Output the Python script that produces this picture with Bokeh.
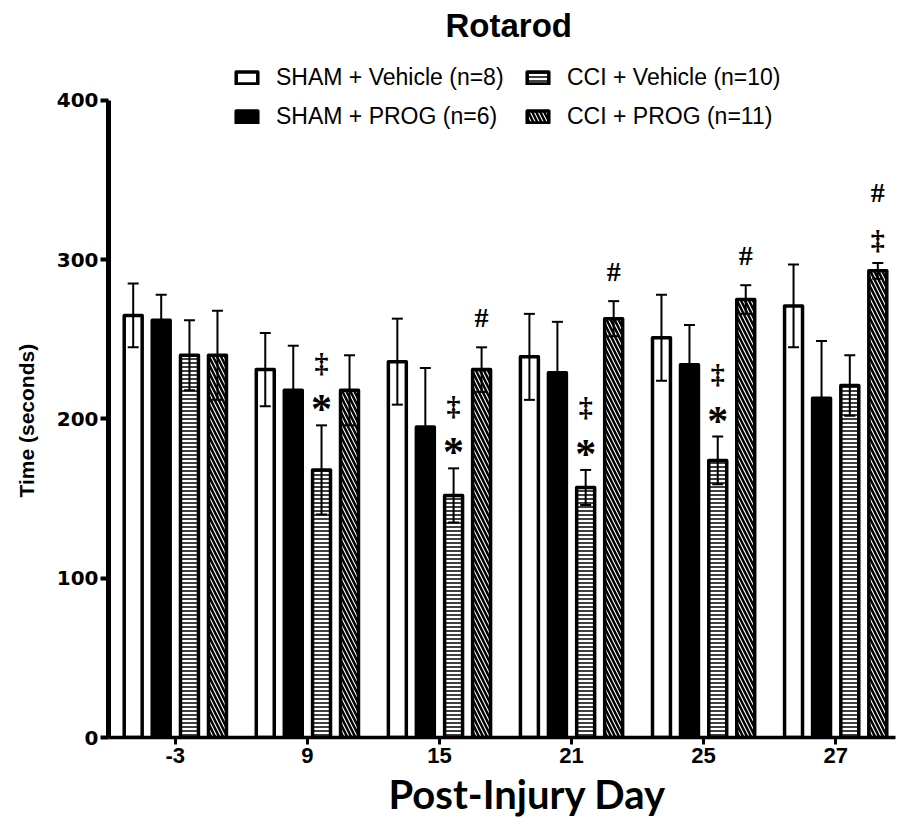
from bokeh.plotting import figure
from bokeh.models import (ColumnDataSource, Whisker, TeeHead, Legend, LegendItem,
                          Title, FixedTicker, Range1d)
from bokeh.core.properties import value
from bokeh.embed import file_html
from bokeh.resources import INLINE

# ---------------- data ----------------
days = ["-3", "9", "15", "21", "25", "27"]
series_names = ["SHAM + Vehicle (n=8)", "SHAM + PROG (n=6)",
                "CCI + Vehicle (n=10)", "CCI + PROG (n=11)"]

sham_veh = [265, 231, 236, 239, 251, 271]
sham_veh_err = [20, 23, 27, 27, 27, 26]
sham_prog = [262, 218, 195, 229, 234, 213]
sham_prog_err = [16, 28, 37, 32, 25, 36]
cci_veh = [240, 168, 152, 157, 174, 221]
cci_veh_err = [22, 28, 17, 11, 15, 19]
cci_prog = [240, 218, 231, 263, 275, 293]
cci_prog_err = [28, 22, 14, 11, 9, 5]

# significance marks: day, series index, symbol, stacking level
annot_day = ["9", "9", "15", "15", "15", "21", "21", "21", "25", "25", "25", "27", "27"]
annot_series = [2, 2, 2, 2, 3, 2, 2, 3, 2, 2, 3, 3, 3]
annot_symbol = ["*", "‡", "*", "‡", "#", "*", "‡", "#", "*", "‡", "#", "‡", "#"]
annot_level = [0, 1, 0, 1, 0, 0, 1, 0, 0, 1, 0, 0, 1]

y_ticks = [0, 100, 200, 300, 400]

# ---------------- styling ----------------
means = [sham_veh, sham_prog, cci_veh, cci_prog]
errs = [sham_veh_err, sham_prog_err, cci_veh_err, cci_prog_err]
offsets = [-0.319, -0.107, 0.107, 0.319]
fills = ["white", "black", "white", "white"]
hatches = [None, None, "horizontal_line", "left_diagonal_line"]
hscale = [6, 6, 4, 8]
hweight = [1, 1, 1.5, 2.5]
bar_w = 0.136

p = figure(width=900, height=824, output_backend="svg", toolbar_location=None,
           x_range=Range1d(-0.506, 5.453), y_range=Range1d(0, 432.0),
           min_border_left=106, min_border_right=5, min_border_top=49,
           min_border_bottom=87)
p.outline_line_color = None
p.xgrid.visible = False
p.ygrid.visible = False
p.background_fill_color = "white"

renderers = []
for k in range(4):
    xs = [i + offsets[k] for i in range(len(days))]
    src = ColumnDataSource(dict(
        x=xs, top=means[k],
        up=[m + e for m, e in zip(means[k], errs[k])],
        lo=[m - e for m, e in zip(means[k], errs[k])]))
    kw = {}
    if hatches[k]:
        kw = dict(hatch_pattern=hatches[k], hatch_color="black",
                  hatch_scale=hscale[k], hatch_weight=hweight[k])
    r = p.vbar(x="x", top="top", bottom=0, width=bar_w, source=src,
               fill_color=fills[k], line_color="black", line_width=3.5,
               line_join="round", **kw)
    renderers.append(r)
    w = Whisker(source=src, base="x", upper="up", lower="lo",
                line_color="black", line_width=2, level="overlay",
                upper_head=TeeHead(size=11, line_width=2, line_color="black"),
                lower_head=TeeHead(size=11, line_width=2, line_color="black"))
    p.add_layout(w)

# significance symbols
ax, ay, aoff, afs = [], [], [], []
sym_adj = {"*": 8, "‡": 1, "#": -6}
sym_size = {"*": "42px", "‡": "28px", "#": "28px"}
for d, s, sym, lvl in zip(annot_day, annot_series, annot_symbol, annot_level):
    i = days.index(d)
    ax.append(i + offsets[s])
    ay.append(means[s][i] + errs[s][i])
    aoff.append(-(24 + 40 * lvl) + sym_adj[sym])
    afs.append(sym_size[sym])
asrc = ColumnDataSource(dict(x=ax, y=ay, sym=annot_symbol, yoff=aoff, fs=afs))
p.text(x="x", y="y", text="sym", source=asrc, y_offset="yoff",
       text_font=value("Liberation Serif"), text_font_size="fs",
       text_font_style="bold", text_align="center", text_baseline="middle",
       text_color="black", level="overlay")

# axes
p.xaxis.ticker = FixedTicker(ticks=list(range(len(days))))
p.xaxis.major_label_overrides = {i: d for i, d in enumerate(days)}
p.xaxis.minor_tick_line_color = None
p.xaxis.axis_line_width = 3.5
p.xaxis.major_tick_line_width = 3
p.xaxis.major_tick_out = 7
p.xaxis.major_tick_in = 0
p.xaxis.major_label_text_font = "Liberation Sans"
p.xaxis.major_label_text_font_style = "bold"
p.xaxis.major_label_text_font_size = "22px"
p.xaxis.major_label_text_color = "black"
p.xaxis.major_label_standoff = 3

p.yaxis.ticker = FixedTicker(ticks=y_ticks)
p.yaxis.bounds = (y_ticks[0], y_ticks[-1])
p.yaxis.minor_tick_line_color = None
p.yaxis.axis_line_width = 5
p.yaxis.major_tick_line_width = 4
p.yaxis.major_tick_out = 8
p.yaxis.major_tick_in = 0
p.yaxis.major_label_text_font = "DejaVu Sans"
p.yaxis.major_label_text_font_style = "bold"
p.yaxis.major_label_text_font_size = "20px"
p.yaxis.major_label_text_color = "black"
p.yaxis.major_label_standoff = 2

# y-axis title (side title, positioned along the 0-400 span)
p.add_layout(Title(text="Time (seconds)", align="left", offset=240,
                   vertical_align="top",
                   text_font="Liberation Sans", text_font_style="bold",
                   text_font_size="21px", text_color="black", standoff=28), "left")

# legend
legend = Legend(items=[LegendItem(label=n, renderers=[r]) for n, r in zip(series_names, renderers)],
                nrows=2, orientation="vertical", location=(125, 607),
                label_text_font="Liberation Sans", label_text_font_size="23px",
                label_text_color="black", glyph_width=27, glyph_height=15,
                label_standoff=16, label_width=236, spacing=12, padding=10,
                border_line_color=None, background_fill_alpha=0)
p.add_layout(legend, "center")

# main title
p.title = Title(text="Rotarod", align="left", offset=337, vertical_align="top",
                text_font="Liberation Sans", text_font_style="bold",
                text_font_size="33px", text_color="black", standoff=8)

# x-axis title
p.add_layout(Title(text="Post-Injury Day", align="left", offset=280,
                   text_font="Lato", text_font_style="bold",
                   text_font_size="40px", text_color="black", standoff=4), "below")

open("out.html", "w").write(file_html(p, INLINE))
